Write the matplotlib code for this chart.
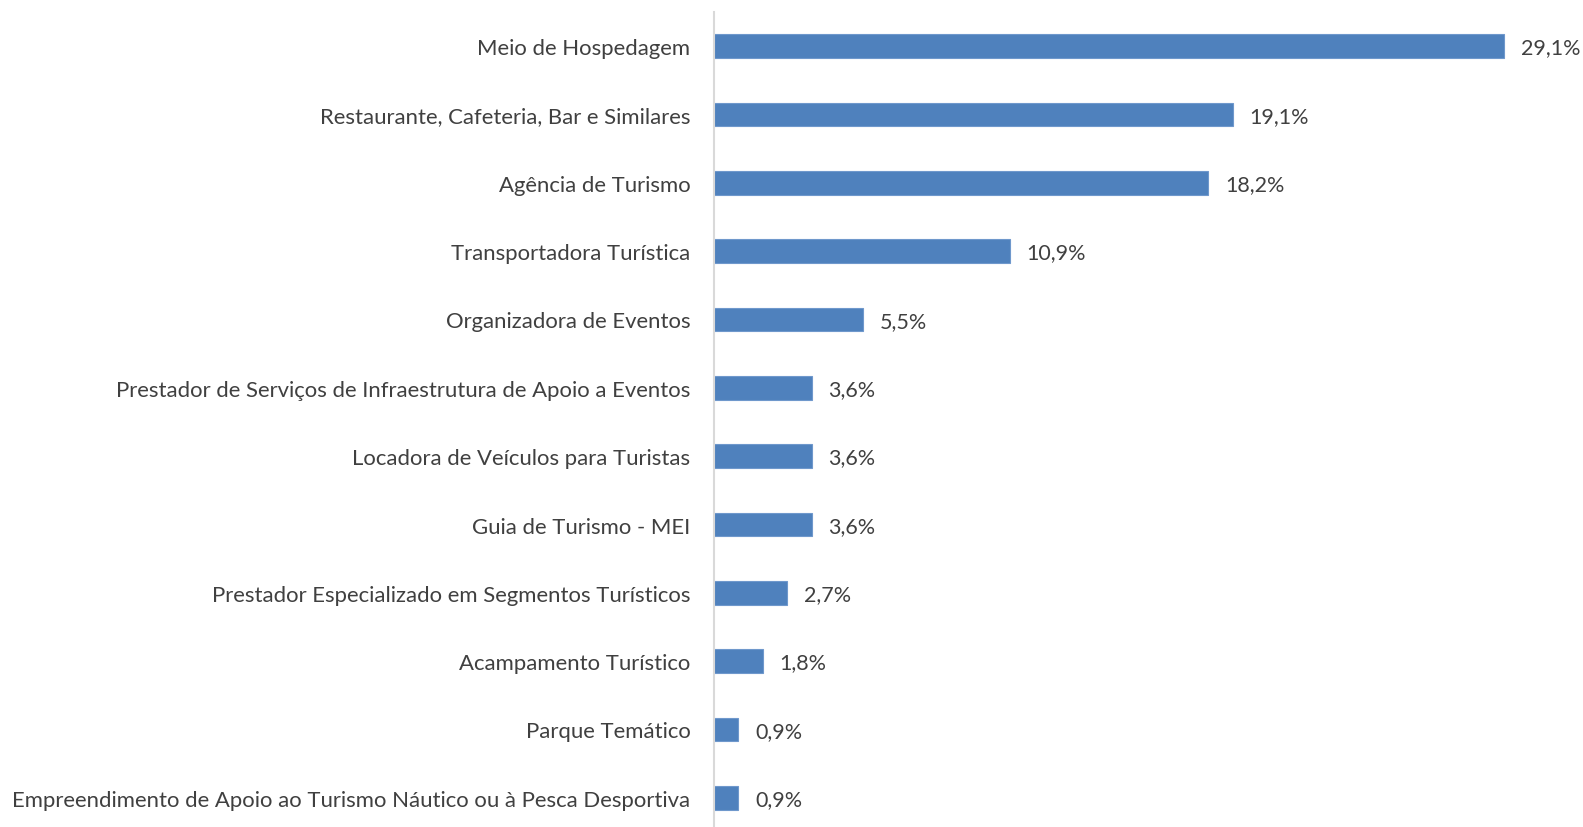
import matplotlib.pyplot as plt

plt.rcParams['font.family'] = ['Lato', 'DejaVu Sans']

# dados do gráfico
categorias = ['Meio de Hospedagem',
              'Restaurante, Cafeteria, Bar e Similares',
              'Agência de Turismo',
              'Transportadora Turística',
              'Organizadora de Eventos',
              'Prestador de Serviços de Infraestrutura de Apoio a Eventos',
              'Locadora de Veículos para Turistas',
              'Guia de Turismo - MEI',
              'Prestador Especializado em Segmentos Turísticos',
              'Acampamento Turístico',
              'Parque Temático',
              'Empreendimento de Apoio ao Turismo Náutico ou à Pesca Desportiva']
valores = [29.1, 19.1, 18.2, 10.9, 5.5, 3.6, 3.6, 3.6, 2.7, 1.8, 0.9, 0.9]

cor_texto = '#404040'

fig = plt.figure(figsize=(15.83, 8.28), dpi=100)
ax = fig.add_axes([714 / 1583, -5 / 828, 1 - 714 / 1583, 820 / 828])

pos = list(range(len(categorias)))
ax.barh(pos, valores, height=0.35, color='#4F81BD', edgecolor='#6F98CC', linewidth=0.8)

for p, v in zip(pos, valores):
    ax.annotate(f'{v:.1f}%'.replace('.', ','), (v, p), xytext=(12, -1), textcoords='offset points',
                va='center', ha='left', fontsize=15.5, color=cor_texto)

ax.set_yticks(pos)
ax.set_yticklabels(categorias, fontsize=15.9, color=cor_texto)
ax.set_ylim(len(categorias) - 0.5, -0.5)
ax.set_xlim(0, 32)
ax.tick_params(axis='y', length=0, pad=17)
ax.set_xticks([])
for s in ['top', 'right', 'bottom']:
    ax.spines[s].set_visible(False)
ax.spines['left'].set_color('#D9D9D9')
ax.spines['left'].set_linewidth(1.5)

fig.savefig('out.png', dpi=100)
